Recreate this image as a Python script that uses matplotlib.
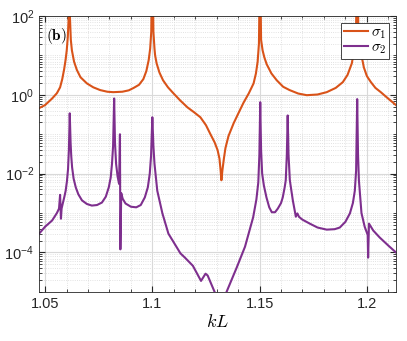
import matplotlib
matplotlib.use("Agg")
import matplotlib.pyplot as plt
from matplotlib.ticker import FixedLocator, LogLocator, NullFormatter

plt.rcParams["mathtext.fontset"] = "cm"
plt.rcParams["font.family"] = ["Liberation Sans", "DejaVu Sans"]

# sigma_1
kl1 = [1.0472, 1.0500, 1.0533, 1.0555, 1.0570, 1.0580, 1.0589, 1.0596, 1.0601, 1.0606,
       1.0610, 1.0613, 1.0616, 1.0620, 1.0625, 1.0635, 1.0648, 1.0665, 1.0695, 1.0725,
       1.0757, 1.0790, 1.0818, 1.0860, 1.0890, 1.0913, 1.0938, 1.0958, 1.0972, 1.0983,
       1.0990, 1.0995, 1.1000, 1.1005, 1.1010, 1.1013, 1.1020, 1.1033, 1.1050, 1.1073,
       1.1098, 1.1130, 1.1164, 1.1195, 1.1224, 1.1250, 1.1271, 1.1290, 1.1304, 1.1313,
       1.1318, 1.1322, 1.1327, 1.1334, 1.1341, 1.1355, 1.1379, 1.1400, 1.1425, 1.1450,
       1.1472, 1.1483, 1.1491, 1.1497, 1.1502, 1.1507, 1.1514, 1.1522, 1.1533, 1.1555,
       1.1580, 1.1610, 1.1640, 1.1680, 1.1720, 1.1770, 1.1813, 1.1855, 1.1888, 1.1910,
       1.1930, 1.1942, 1.1950, 1.1955, 1.1960, 1.1967, 1.1975, 1.1986, 1.2000, 1.2019,
       1.2040, 1.2065, 1.2100, 1.2136]
s1 = [0.46, 0.55, 0.81, 1.1, 1.55, 2.5, 4.5, 8.0, 13.5, 30,
      90, 2000, 90, 25, 13.5, 7.0, 4.3, 2.8, 1.95, 1.55,
      1.32, 1.2, 1.17, 1.2, 1.3, 1.5, 1.8, 2.5, 4.0, 7.6,
      15, 40, 5000, 40, 15, 10, 6.3, 3.7, 2.34, 1.55,
      1.1, 0.72, 0.48, 0.36, 0.27, 0.17, 0.10, 0.063, 0.04, 0.024,
      0.0126, 0.0068, 0.0126, 0.025, 0.045, 0.09, 0.19, 0.33, 0.63, 1.1,
      1.95, 3.5, 7.0, 20, 3000, 25, 13.5, 9.0, 6.0, 3.5,
      2.34, 1.6, 1.32, 1.08, 0.98, 1.02, 1.17, 1.5, 2.1, 3.2,
      6.3, 15, 60, 3000, 60, 20, 10, 5.0, 3.0, 2.1,
      1.5, 1.17, 0.8, 0.55]

# sigma_2
kl2 = [1.0472, 1.0500, 1.0533, 1.0555, 1.0565, 1.0570, 1.0574, 1.0577, 1.0583, 1.0590,
       1.0596, 1.0602, 1.0607, 1.0611, 1.0615, 1.0619, 1.0622, 1.0626, 1.0633, 1.0643,
       1.0655, 1.0672, 1.0695, 1.0718, 1.0742, 1.0765, 1.0783, 1.0797, 1.0806, 1.0812,
       1.0817, 1.0822, 1.0826, 1.0831, 1.0838, 1.0845, 1.0849, 1.0851, 1.0855, 1.0862,
       1.0875, 1.0900, 1.0925, 1.0946, 1.0965, 1.0979, 1.0988, 1.0994, 1.1000, 1.1005,
       1.1010, 1.1023, 1.1047, 1.1075, 1.1100, 1.1131, 1.1152, 1.1189, 1.1227, 1.1248,
       1.1258, 1.1292, 1.1320, 1.1346, 1.1393, 1.1432, 1.1470, 1.1485, 1.1494, 1.1499,
       1.1503, 1.1507, 1.1512, 1.1520, 1.1532, 1.1545, 1.1557, 1.1572, 1.1585, 1.1600,
       1.1608, 1.1617, 1.1622, 1.1627, 1.1631, 1.1635, 1.1641, 1.1655, 1.1669, 1.1676,
       1.1684, 1.1700, 1.1734, 1.1770, 1.1813, 1.1850, 1.1874, 1.1900, 1.1921, 1.1935,
       1.1944, 1.1950, 1.1955, 1.1959, 1.1963, 1.1975, 1.1990, 1.2000, 1.2004, 1.2006,
       1.2010, 1.2030, 1.2060, 1.2100, 1.2136]
s2 = [3.0e-4, 4.5e-4, 6.5e-4, 1.0e-3, 1.3e-3, 2.9e-3, 7.2e-4, 1.3e-3, 1.8e-3, 2.6e-3,
      3.7e-3, 6.5e-3, 1.3e-2, 4.0e-2, 3.4e-1, 6.0e-2, 2.8e-2, 1.45e-2, 7.5e-3, 4.5e-3,
      3.0e-3, 2.1e-3, 1.7e-3, 1.55e-3, 1.6e-3, 1.85e-3, 2.6e-3, 4.5e-3, 8.0e-3, 1.8e-2,
      5.0e-2, 8.1e-1, 6.0e-2, 1.8e-2, 8.5e-3, 5.5e-3, 1.0e-1, 1.2e-4, 3.2e-3, 2.3e-3,
      1.75e-3, 1.45e-3, 1.4e-3, 1.6e-3, 2.5e-3, 4.5e-3, 1.0e-2, 2.8e-2, 2.7e-1, 5.0e-2,
      1.8e-2, 3.7e-3, 9.8e-4, 3.0e-4, 1.8e-4, 9.5e-5, 7.4e-5, 4.6e-5, 1.9e-5, 2.9e-5,
      2.6e-5, 9.5e-6, 3.0e-6, 1.0e-5, 4.1e-5, 1.4e-4, 7.8e-4, 2.2e-3, 6.0e-3, 3.0e-2,
      6.5e-1, 4.0e-2, 1.0e-2, 5.0e-3, 2.5e-3, 1.4e-3, 1.05e-3, 1.05e-3, 1.3e-3, 1.8e-3,
      2.5e-3, 4.5e-3, 6.8e-3, 3.0e-2, 3.0e-1, 3.0e-2, 6.8e-3, 2.1e-3, 8.1e-4, 9.8e-4,
      8.0e-4, 6.8e-4, 5.4e-4, 4.3e-4, 3.8e-4, 3.9e-4, 4.3e-4, 6.0e-4, 9.8e-4, 1.8e-3,
      3.7e-3, 1.2e-2, 7.8e-1, 3.0e-2, 6.8e-3, 1.0e-3, 4.5e-4, 3.2e-4, 2.8e-4, 7.4e-5,
      5.4e-4, 3.6e-4, 2.4e-4, 1.5e-4, 1.0e-4]

x_ticks = [1.05, 1.1, 1.15, 1.2]
x_ticklabels = ["1.05", "1.1", "1.15", "1.2"]

fig = plt.figure(figsize=(4.07, 3.41), dpi=100)
ax = fig.add_axes([0.096, 0.144, 0.877, 0.809])

ax.plot(kl1, s1, color="#D95319", lw=1.5, label=r"$\sigma_1$")
ax.plot(kl2, s2, color="#7E2F8E", lw=1.5, label=r"$\sigma_2$")

ax.set_yscale("log")
ax.set_xlim(1.0472, 1.2136)
ax.set_ylim(1e-5, 1e2)
ax.set_xticks(x_ticks)
ax.set_xticklabels(x_ticklabels)
ax.xaxis.set_minor_locator(FixedLocator([1.05 + 0.01 * i for i in range(-1, 17)]))
ax.yaxis.set_major_locator(FixedLocator([1e-4, 1e-2, 1e0, 1e2]))
ax.yaxis.set_minor_locator(LogLocator(base=10, subs=range(1, 10), numticks=20))
ax.yaxis.set_minor_formatter(NullFormatter())

ax.grid(which="major", color="#d9d9d9", lw=0.8)
ax.grid(which="minor", color="#d9d9d9", lw=0.6, ls=":")
ax.set_axisbelow(True)
ax.tick_params(which="both", direction="in", top=True, right=True, labelsize=10.5, colors="#262626")
ax.tick_params(which="major", length=4)
ax.tick_params(which="minor", length=2)
for sp in ax.spines.values():
    sp.set_color("#262626")
    sp.set_linewidth(0.6)

ax.set_xlabel(r"$kL$", fontsize=13, labelpad=2)
ax.text(0.02, 0.965, r"$\mathbf{(b)}$", transform=ax.transAxes, fontsize=11, va="top", ha="left")

leg = ax.legend(loc="upper right", fontsize=11, handlelength=1.6, borderpad=0.15,
                labelspacing=0.0, handletextpad=0.2, fancybox=False, framealpha=1,
                borderaxespad=0, bbox_to_anchor=(0.98, 0.975))
leg.get_frame().set_edgecolor("#262626")
leg.get_frame().set_linewidth(0.6)

fig.savefig("out.png", dpi=100)
